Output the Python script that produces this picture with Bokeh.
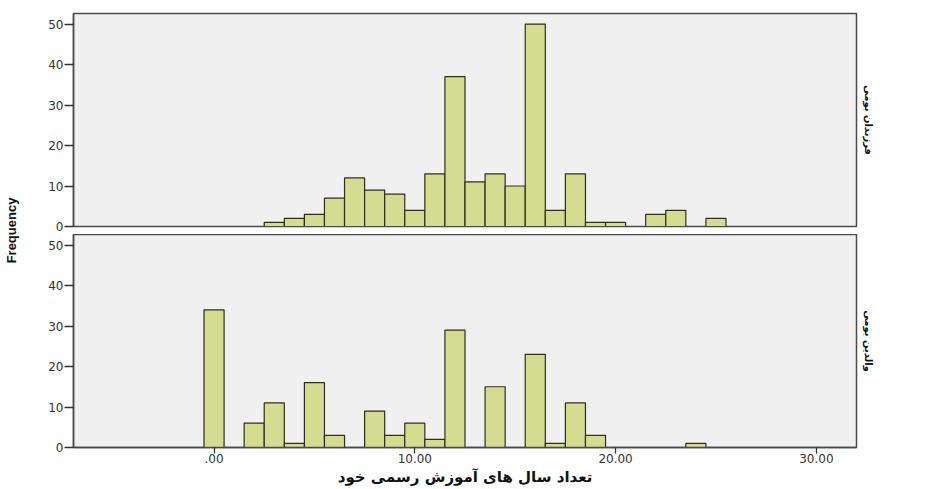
from bokeh.plotting import figure
from bokeh.models import Range1d, FixedTicker, Title
from bokeh.layouts import row, column
from bokeh.embed import file_html
from bokeh.resources import INLINE

# ---- data ----
years_children = list(range(3, 26))
freq_children = [1, 2, 3, 7, 12, 9, 8, 4, 13, 37, 11, 13, 10, 50, 4, 13, 1, 1, 0, 3, 4, 0, 2]
years_parents = list(range(0, 25))
freq_parents = [34, 0, 6, 11, 1, 16, 3, 0, 9, 3, 6, 2, 29, 0, 15, 0, 23, 1, 11, 3, 0, 0, 0, 0, 1]
x_tick_values = [0, 10, 20, 30]
x_tick_labels = [".00", "10.00", "20.00", "30.00"]
y_tick_values = [0, 10, 20, 30, 40, 50]
panel_labels = ["فرزندان بومی", "والدین بومی"]
x_label = "تعداد سال های آموزش رسمی خود"
y_label = "Frequency"

BAR_FILL = "#d4dc92"
BAR_LINE = "#2e2e1c"
PANEL_BG = "#f0f0f0"
FRAME = "#4a4a4a"
TICK_FONT = "DejaVu Sans"
FA_FONT = "DejaVu Sans"


def panel(xs, fs, label, height, top_b, bottom_b, y_end, show_x):
    p = figure(width=862, height=height, output_backend="svg", toolbar_location=None,
               x_range=Range1d(-7, 32), y_range=Range1d(0, y_end),
               min_border_left=45, min_border_right=34,
               min_border_top=top_b, min_border_bottom=bottom_b,
               x_axis_location="below" if show_x else None)
    keep = [(x, f) for x, f in zip(xs, fs) if f > 0]
    p.vbar(x=[k[0] for k in keep], top=[k[1] for k in keep], width=1.0, bottom=0,
           fill_color=BAR_FILL, line_color=BAR_LINE, line_width=1.2)
    p.background_fill_color = PANEL_BG
    p.border_fill_color = "white"
    p.outline_line_color = FRAME
    p.outline_line_width = 1.5
    p.xgrid.visible = False
    p.ygrid.visible = False
    ya = p.yaxis[0]
    ya.ticker = FixedTicker(ticks=y_tick_values)
    ya.major_tick_out = 9
    ya.major_tick_in = 0
    ya.minor_tick_line_color = None
    ya.major_tick_line_color = "#333333"
    ya.major_tick_line_width = 1.3
    ya.axis_line_color = FRAME
    ya.axis_line_width = 1.5
    ya.major_label_standoff = 1
    ya.major_label_text_font = TICK_FONT
    ya.major_label_text_font_size = "12px"
    ya.major_label_text_color = "#333333"
    if show_x:
        xa = p.xaxis[0]
        xa.ticker = FixedTicker(ticks=x_tick_values)
        xa.major_label_overrides = dict(zip(x_tick_values, x_tick_labels))
        xa.major_tick_out = 6
        xa.major_tick_in = 0
        xa.minor_tick_line_color = None
        xa.major_tick_line_color = "#333333"
        xa.major_tick_line_width = 1.3
        xa.axis_line_color = FRAME
        xa.axis_line_width = 1.5
        xa.major_label_standoff = 0
        xa.major_label_text_font = TICK_FONT
        xa.major_label_text_font_size = "12px"
        xa.major_label_text_color = "#333333"
        xa.axis_label = x_label
        xa.axis_label_standoff = 2
        xa.axis_label_text_font = FA_FONT
        xa.axis_label_text_font_size = "15px"
        xa.axis_label_text_font_style = "bold"
        xa.axis_label_text_color = "#111111"
    t = Title(text=label, align="center", text_font=FA_FONT, text_font_size="10px",
              text_font_style="bold", text_color="#111111", standoff=12)
    p.add_layout(t, "right")
    return p


# top panel: frame 13..226, bottom panel: frame 234..447
top = panel(years_children, freq_children, panel_labels[0], 234, 13, 8, 52.6, False)
bottom = panel(years_parents, freq_parents, panel_labels[1], 254, 0, 41, 52.6, True)

fq = figure(width=28, height=488, output_backend="svg", toolbar_location=None,
            x_axis_location=None, min_border_left=0, min_border_right=0,
            min_border_top=13, min_border_bottom=41,
            x_range=Range1d(0, 1), y_range=Range1d(0, 1))
fq.outline_line_color = None
fq.background_fill_color = "white"
fq.border_fill_color = "white"
fq.xgrid.visible = False
fq.ygrid.visible = False
fya = fq.yaxis[0]
fya.ticker = FixedTicker(ticks=[])
fya.axis_line_color = None
fya.major_tick_line_color = None
fya.minor_tick_line_color = None
fya.axis_label = y_label
fya.axis_label_standoff = 0
fya.axis_label_text_font = "Liberation Sans"
fya.axis_label_text_font_size = "13px"
fya.axis_label_text_font_style = "bold"
fya.axis_label_text_color = "#111111"

layout = row(fq, column(top, bottom, spacing=0), spacing=0)

open("out.html", "w").write(file_html(layout, INLINE))
